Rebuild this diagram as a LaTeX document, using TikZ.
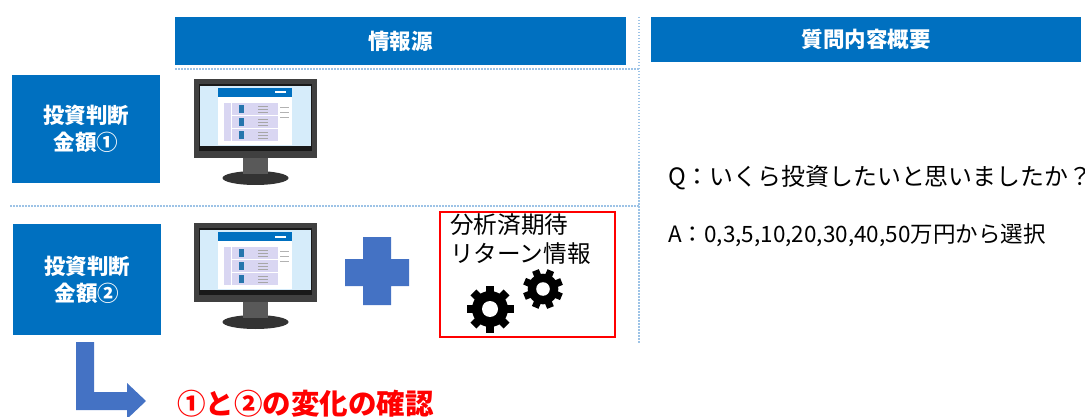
\documentclass[tikz,border=0pt]{standalone}
\usepackage{xcolor}
\usepackage{fontspec}
\setmainfont{Noto Sans CJK JP}
\usetikzlibrary{positioning,calc}
\definecolor{headblue}{HTML}{0070C0}
\definecolor{arrowblue}{HTML}{4472C4}
\definecolor{dotblue}{HTML}{9DC3E6}
\definecolor{screenblue}{HTML}{D6ECFA}
\definecolor{rowviolet}{HTML}{D9D6F2}
\tikzset{
  headbox/.style={draw=none, fill=headblue, text=white, font=\fontsize{21.5}{27}\selectfont\bfseries, align=center, inner sep=0pt},
  sepline/.style={draw=dotblue, line width=1.5pt, dash pattern=on 1.5pt off 1.5pt},
  qtext/.style={anchor=west, inner sep=0pt},
  pics/monitor/.style={code={
    % housing and stand, origin at top left of housing
    \fill[black!75] (0,0) rectangle (123,79);
    \fill[black!90] (5,5) rectangle (118,72);
    \fill[screenblue] (6,7) rectangle (117,67);
    \fill[black!80] (61.5,99) ellipse (33 and 7);
    \fill[black!65] (49,79) rectangle (74,95);
    % page on the screen
    \fill[white] (24,9) rectangle (98,66);
    \fill[headblue] (24,9) rectangle (98,18);
    \fill[white] (81,12.5) rectangle (92,14.5);
    \fill[rowviolet] (30,24) rectangle (37,62);
    \foreach \rowy in {24,37,50} {
      \fill[rowviolet] (38,\rowy) rectangle (84,\rowy+12);
      \fill[headblue!70!gray] (45,\rowy+2) rectangle (50,\rowy+10);
      \foreach \liney in {3,6,9}
        \draw[black!35, line width=.5pt] (64,\rowy+\liney) -- (74,\rowy+\liney);
    }
    \foreach \liney in {28,33,38}
      \draw[black!30, line width=.5pt] (86,\liney) -- (95,\liney);
  }},
  pics/gear/.style={code={
    % eight teeth round a ring
    \foreach \ang in {0,45,...,315}
      \fill[black, rotate=\ang+#1] (-4.2,0) rectangle (4.2,-23.5);
    \fill[black] (0,0) circle (18);
    \fill[white] (0,0) circle (8);
  }},
}
\begin{document}
\begin{tikzpicture}[x=1pt,y=-1pt]
  \useasboundingbox (0,0) rectangle (1085,417);
  % column heads
  \node[headbox, minimum width=451pt, minimum height=48pt] (source) at (400.5,41) {情報源};
  \node[headbox, minimum width=430pt, minimum height=45pt] (question) at (866,39.5) {質問内容概要};
  % row labels
  \node[headbox, minimum width=148pt, minimum height=108pt] (first) at (86,129) {投資判断\\金額①};
  \node[headbox, minimum width=148pt, minimum height=111pt] (second) at (87,279.5) {投資判断\\金額②};
  % dotted separators
  \coordinate (rowa) at (175,69);
  \coordinate (rowb) at (10,206);
  \coordinate (coltop) at (639,17);
  \coordinate (colbot) at (639,343);
  \draw[sepline] (coltop) -- (colbot);
  \draw[sepline] (rowa) -- (rowa -| coltop);
  \draw[sepline] (rowb) -- (rowb -| coltop);
  % screens
  \pic at (194,79) {monitor};
  \pic at (194,223) {monitor};
  % plus sign
  \fill[arrowblue] (363,237) -- (391,237) -- (391,259) -- (409,259) -- (409,286) -- (391,286) -- (391,305) -- (363,305) -- (363,286) -- (345,286) -- (345,259) -- (363,259) -- cycle;
  % analysed information
  \node[draw=red, line width=2pt, minimum width=175pt, minimum height=125pt, inner sep=0pt] (info) at (527,274) {};
  \node[font=\fontsize{23.6}{29}\selectfont, align=left, anchor=north west, inner sep=0pt] (infotext) at (450,213) {分析済期待\\リターン情報};
  \pic at (490,309) {gear=0};
  \pic[scale=.85] at (543,289) {gear=22};
  % question text
  \node[qtext, font=\fontsize{23.9}{28}\selectfont] (qline) at (668,178) {Q：いくら投資したいと思いましたか？};
  \node[qtext, font=\fontsize{22.5}{28}\selectfont] (aline) at (668,235) {A：0,3,5,10,20,30,40,50万円から選択};
  % bent arrow
  \fill[arrowblue] (76,342) -- (94,342) -- (94,392) -- (127,392) -- (127,383) -- (146,401) -- (127,419) -- (127,410) -- (76,410) -- cycle;
  \node[font=\fontsize{28.5}{32}\selectfont\bfseries, text=red, anchor=west, inner sep=0pt] (change) at (177,404) {①と②の変化の確認};
\end{tikzpicture}
\end{document}
